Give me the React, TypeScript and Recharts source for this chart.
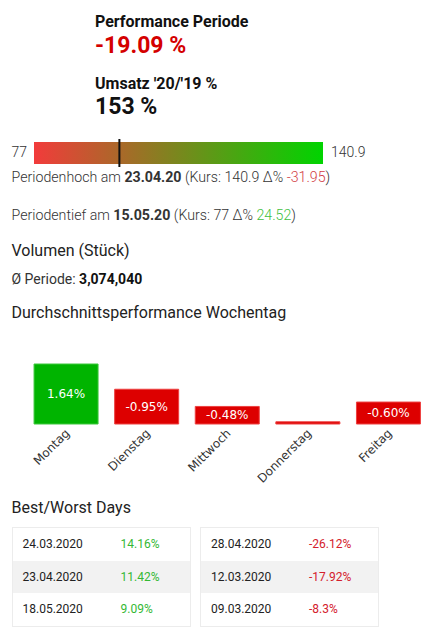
import React from 'react';
import {
    BarChart,
    Bar,
    XAxis,
    YAxis,
    ReferenceLine,
    LabelList,
    Cell,
} from 'recharts';

// Kursspanne der Periode
const RANGE_LOW = 77;
const RANGE_HIGH = 140.9;
const CURRENT_PRICE = 95.88;

const rangeData = [{ name: 'Kurs', low: RANGE_LOW, high: RANGE_HIGH }];

// Durchschnittsperformance je Wochentag (%)
const weekdays = ['Montag', 'Dienstag', 'Mittwoch', 'Donnerstag', 'Freitag'];
const weekdayPerf = [1.64, -0.95, -0.48, -0.06, -0.6];

// Best/Worst Days
const bestDates = ['24.03.2020', '23.04.2020', '18.05.2020'];
const bestValues = ['14.16%', '11.42%', '9.09%'];
const worstDates = ['28.04.2020', '12.03.2020', '09.03.2020'];
const worstValues = ['-26.12%', '-17.92%', '-8.3%'];

const weekdayData = weekdays.map((day, i) => ({ day, perf: weekdayPerf[i] }));

const GREEN = '#00b400';
const RED = '#dd0000';
const TEXT = '#333';

const abs = (d: { perf: number }) => Math.abs(d.perf);

function text(top: number, left: number, size: number, weight: number, children: React.ReactNode, color = TEXT) {
    return (
        <div
            style={{
                position: 'absolute',
                top,
                left,
                fontSize: size,
                fontWeight: weight,
                lineHeight: 1,
                color,
                whiteSpace: 'nowrap',
            }}
        >
            {children}
        </div>
    );
}

function RotatedTick(props: any) {
    const { x, y, payload } = props;
    return (
        <g transform={`translate(${x + 4},${y + 10})`}>
            <text
                textAnchor="end"
                transform="rotate(-45)"
                fontSize={12}
                fontFamily="DejaVu Sans"
                fill="#333"
            >
                {payload.value}
            </text>
        </g>
    );
}

function BarValue(props: any) {
    const { x, y, width, height, value } = props;
    // zu kleine Balken bekommen kein Label
    if (Math.abs(height) < 10) return null;
    return (
        <text
            x={x + width / 2}
            y={y + height / 2}
            textAnchor="middle"
            dominantBaseline="central"
            fontSize={12}
            fontFamily="DejaVu Sans"
            fill="#fff"
        >
            {`${Number(value).toFixed(2)}%`}
        </text>
    );
}

function DaysTable({ dates, values, color, left }: { dates: string[]; values: string[]; color: string; left: number }) {
    return (
        <div
            style={{
                position: 'absolute',
                left,
                top: 527,
                width: 177,
                border: '1px solid #ececec',
                fontSize: 12,
                color: '#222',
            }}
        >
            {dates.map((d, i) => (
                <div
                    key={d}
                    style={{
                        height: 32.5,
                        lineHeight: '32.5px',
                        background: i === 1 ? '#f2f2f2' : '#fff',
                        position: 'relative',
                    }}
                >
                    <span style={{ position: 'absolute', left: 10 }}>{d}</span>
                    <span style={{ position: 'absolute', left: 108, color }}>{values[i]}</span>
                </div>
            ))}
        </div>
    );
}

export default function App() {
    return (
        <div
            style={{
                position: 'absolute',
                top: 0,
                left: 0,
                width: 433,
                height: 636,
                background: '#fff',
                fontFamily: 'Roboto, sans-serif',
                overflow: 'hidden',
            }}
        >
            {text(13.8, 95, 16, 700, 'Performance Periode', '#111')}
            {text(33.9, 95, 23, 700, '-19.09 %', '#d40000')}
            {text(75.8, 95, 16, 700, "Umsatz '20/'19 %", '#111')}
            {text(94.9, 95, 23, 700, '153 %', '#111')}

            {text(145, 11.5, 14, 300, String(RANGE_LOW))}
            {text(145, 331, 14, 300, String(RANGE_HIGH))}

            <div style={{ position: 'absolute', left: 34, top: 139 }}>
                <BarChart
                    width={289}
                    height={28}
                    data={rangeData}
                    layout="vertical"
                    margin={{ top: 0, right: 0, left: 0, bottom: 0 }}
                >
                    <defs>
                        <linearGradient id="rangeGradient" x1="0" y1="0" x2="1" y2="0">
                            <stop offset="0%" stopColor="#f23b3b" />
                            <stop offset="100%" stopColor="#00d400" />
                        </linearGradient>
                    </defs>
                    <XAxis type="number" domain={[RANGE_LOW, RANGE_HIGH]} hide />
                    <YAxis type="category" dataKey="name" hide />
                    <Bar
                        dataKey={(d: any) => [d.low, d.high]}
                        fill="url(#rangeGradient)"
                        barSize={22}
                        isAnimationActive={false}
                    />
                    <ReferenceLine x={CURRENT_PRICE} stroke="#111" strokeWidth={2} />
                </BarChart>
            </div>

            {text(169.8, 11.5, 14.2, 300, (
                <>
                    Periodenhoch am <b style={{ fontWeight: 700 }}>23.04.20</b> (Kurs: 140.9 Δ%{' '}
                    <span style={{ color: '#d23c44' }}>-31.95</span>)
                </>
            ))}
            {text(208, 11.5, 14.2, 300, (
                <>
                    Periodentief am <b style={{ fontWeight: 700 }}>15.05.20</b> (Kurs: 77 Δ%{' '}
                    <span style={{ color: '#3fbf3f' }}>24.52</span>)
                </>
            ))}

            {text(243.2, 11.5, 16, 400, 'Volumen (Stück)', '#222')}
            {text(271.5, 11.5, 14, 400, (
                <>
                    Ø Periode: <b style={{ fontWeight: 700, color: '#111' }}>3,074,040</b>
                </>
            ))}
            {text(304.8, 11.5, 16, 400, 'Durchschnittsperformance Wochentag', '#222')}

            <div style={{ position: 'absolute', left: 0, top: 355 }}>
                <BarChart
                    width={433}
                    height={140}
                    data={weekdayData}
                    margin={{ top: 9, right: 4, left: 26, bottom: 0 }}
                    barCategoryGap="10%"
                >
                    <XAxis
                        dataKey="day"
                        axisLine={false}
                        tickLine={false}
                        tickSize={0}
                        tickMargin={0}
                        interval={0}
                        height={71}
                        tick={<RotatedTick />}
                    />
                    <YAxis hide domain={[0, 'dataMax']} />
                    <Bar dataKey={abs} strokeWidth={1} isAnimationActive={false}>
                        {weekdayData.map((d) => (
                            <Cell
                                key={d.day}
                                fill={d.perf >= 0 ? GREEN : RED}
                                stroke={d.perf >= 0 ? '#3cc83c' : '#ee4040'}
                            />
                        ))}
                        <LabelList dataKey="perf" content={<BarValue />} />
                    </Bar>
                </BarChart>
            </div>

            {text(499.8, 11.5, 16, 400, 'Best/Worst Days', '#222')}
            <DaysTable dates={bestDates} values={bestValues} color="#34b834" left={11.5} />
            <DaysTable dates={worstDates} values={worstValues} color="#d4202c" left={200} />
        </div>
    );
}
